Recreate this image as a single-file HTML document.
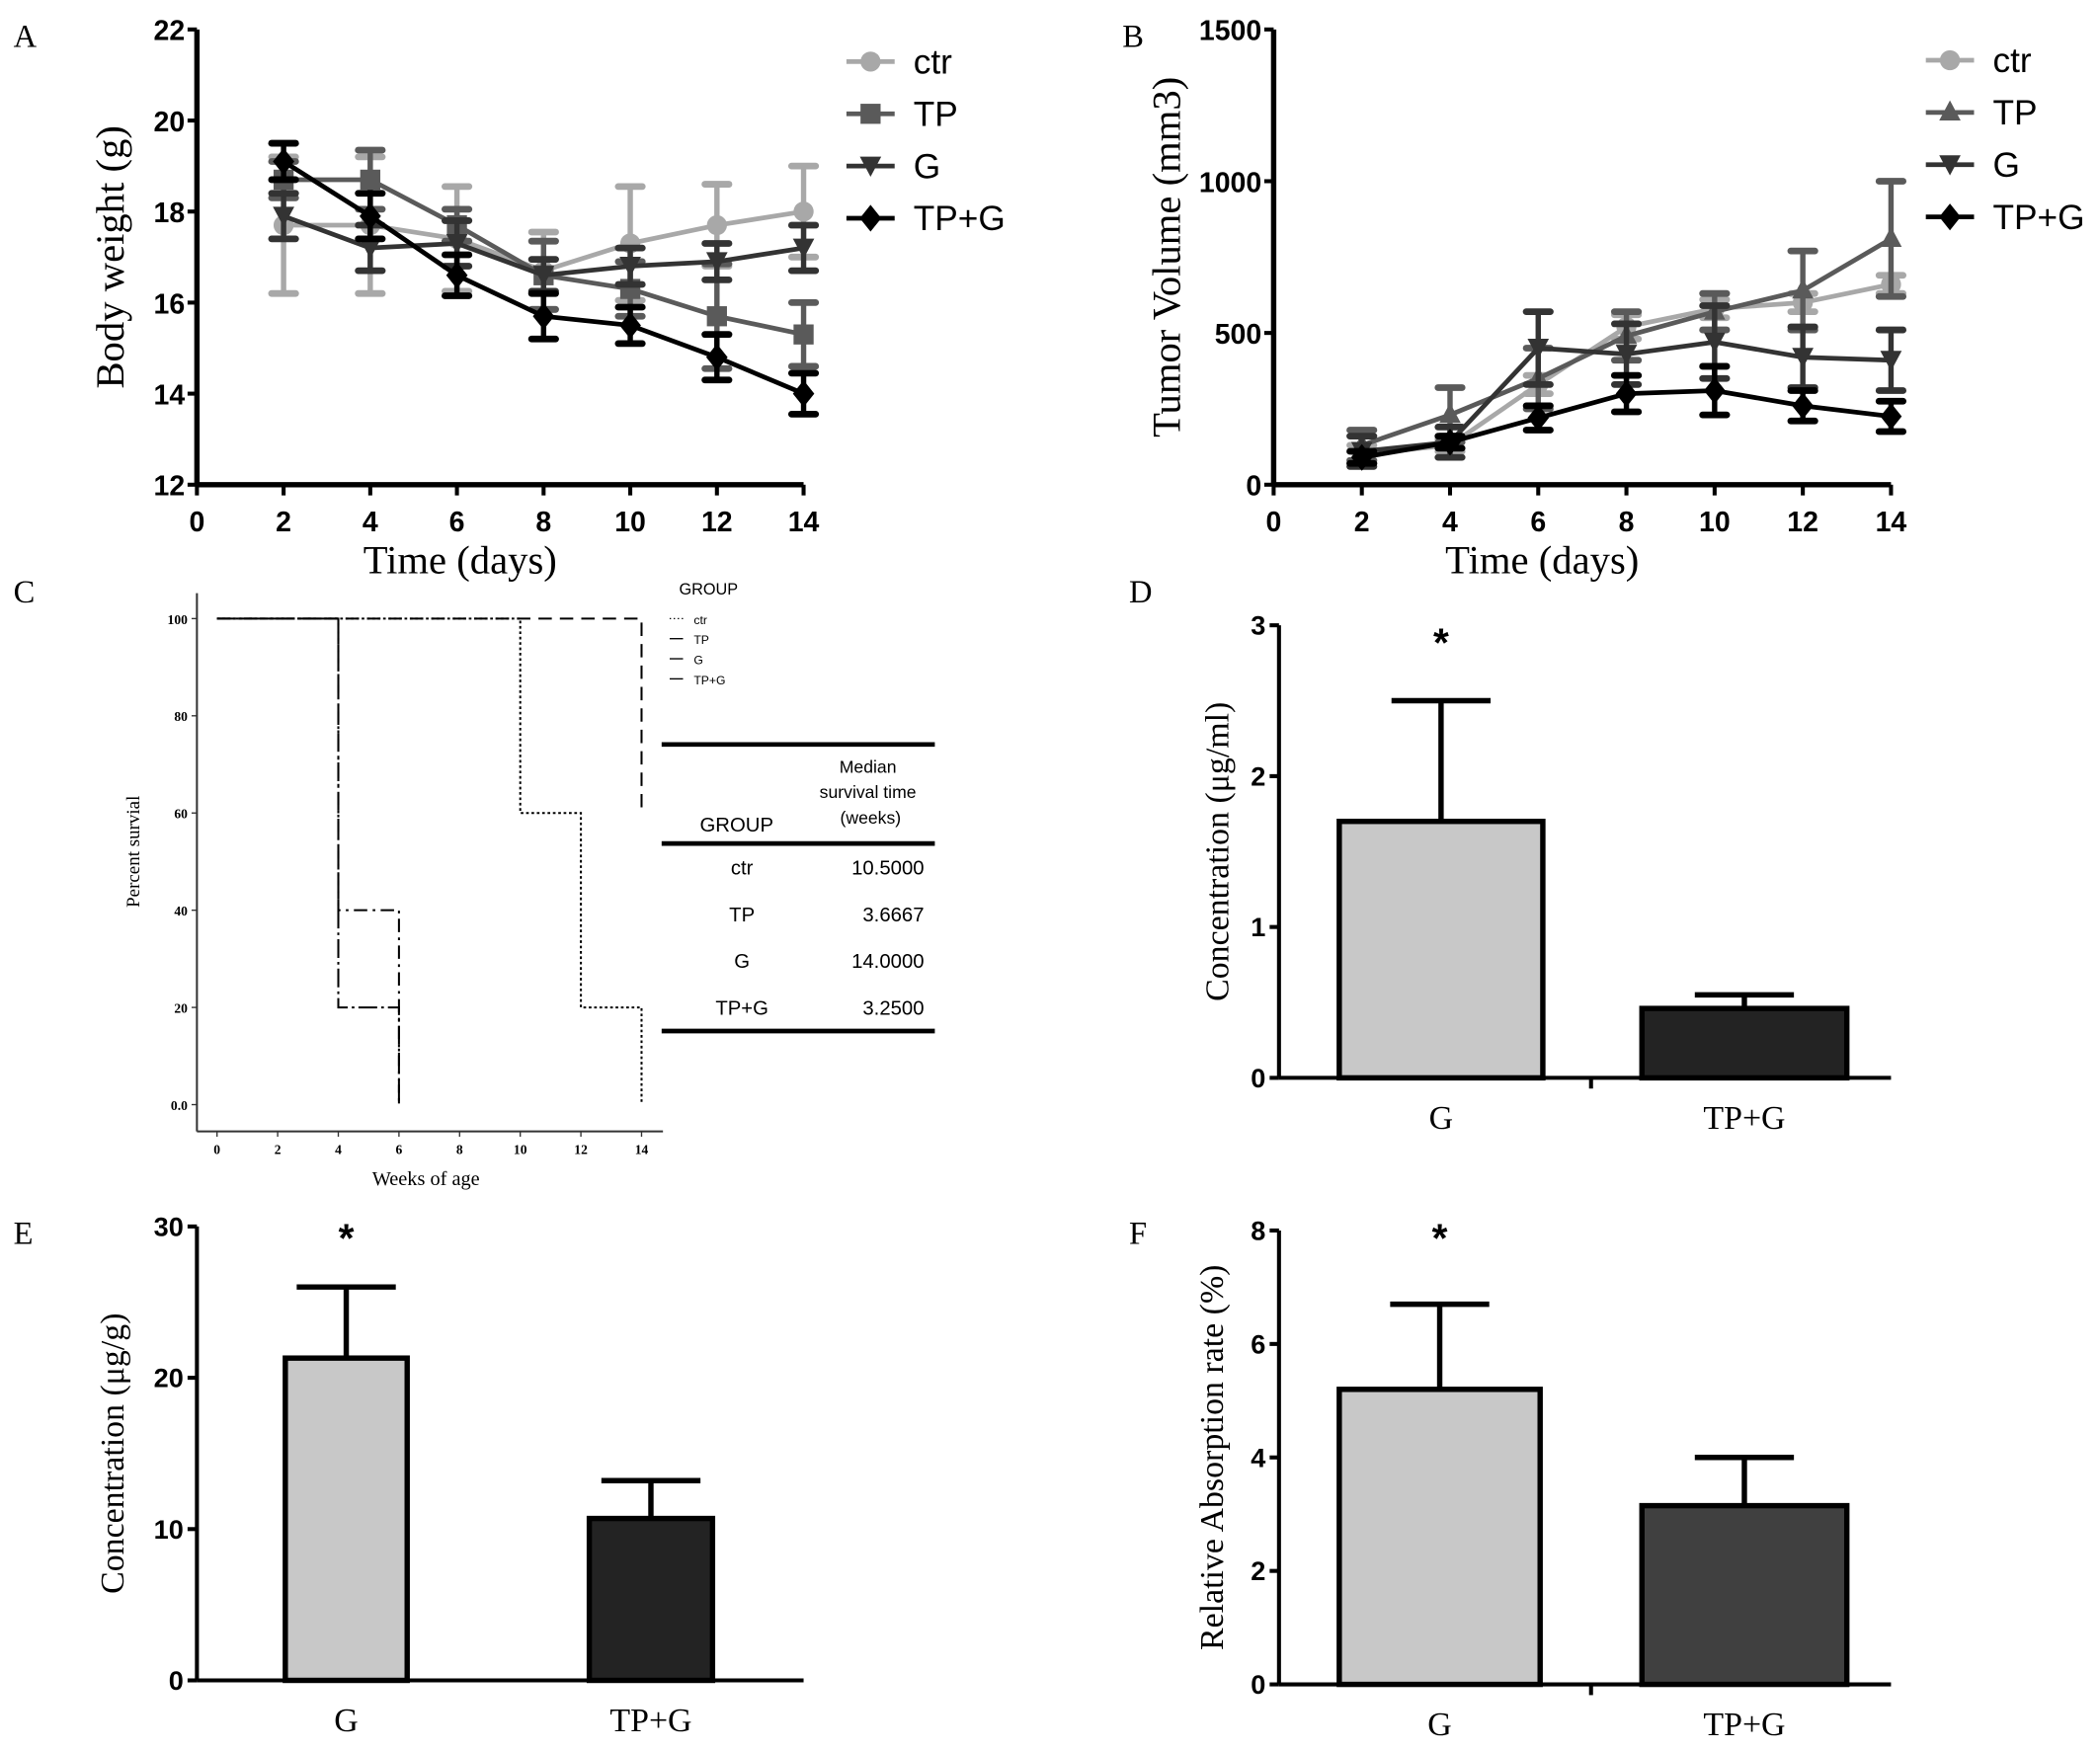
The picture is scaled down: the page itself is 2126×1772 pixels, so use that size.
<!DOCTYPE html>
<html><head><meta charset="utf-8"><style>
html,body{margin:0;padding:0;background:#fff;}
svg{display:block;font-family:"Liberation Serif",serif;}
.ar{font-family:"Liberation Sans",sans-serif;}
</style></head><body>
<svg id="s" width="2126" height="1772" viewBox="0 0 1568 1307" xmlns="http://www.w3.org/2000/svg">
<rect width="1568" height="1307" fill="#fff"/>
<g id="root"></g>
</svg>
<script>
const days=[2,4,6,8,10,12,14];
const aCtr=[17.7,17.7,17.4,16.7,17.3,17.7,18.0];
const aCtrErr=[1.5,1.5,1.15,0.85,1.25,0.9,1.0];
const aTP=[18.7,18.7,17.7,16.6,16.3,15.7,15.3];
const aTPErr=[0.4,0.65,0.35,0.75,0.6,1.15,0.7];
const aG=[17.9,17.2,17.3,16.6,16.8,16.9,17.2];
const aGErr=[0.5,0.5,0.5,0.35,0.4,0.4,0.5];
const aTPG=[19.1,17.9,16.6,15.7,15.5,14.8,14.0];
const aTPGErr=[0.4,0.5,0.45,0.5,0.4,0.5,0.45];
const bCtr=[100,130,330,520,580,600,660];
const bCtrErr=[30,20,30,40,30,30,30];
const bTP=[130,230,350,490,570,640,810];
const bTPErr=[50,90,100,80,60,130,190];
const bG=[110,140,450,430,470,420,410];
const bGErr=[50,50,120,100,120,100,100];
const bTPG=[90,140,220,300,310,260,225];
const bTPGErr=[20,20,40,60,80,50,50];
const survWeeks=[0,4,6,10,12,14];
const tableRows=[["ctr","10.5000"],["TP","3.6667"],["G","14.0000"],["TP+G","3.2500"]];
const barCats=["G","TP+G"];
const dVals=[1.7,0.46];const dErr=[0.8,0.09];
const eVals=[21.3,10.7];const eErr=[4.7,2.5];
const fVals=[5.2,3.15];const fErr=[1.5,0.85];

const NS="http://www.w3.org/2000/svg";
const root=document.getElementById('root');
function el(t,a,p){const e=document.createElementNS(NS,t);for(const k in a)e.setAttribute(k,a[k]);(p||root).appendChild(e);return e;}
function txt(x,y,s,a,p){const e=el('text',Object.assign({x:x,y:y},a),p);e.textContent=s;return e;}

[["A",10,35],["B",838,35],["C",10,450],["D",843,450],["E",10,929],["F",843,929]].forEach(l=>{
const t=txt(l[1],l[2],l[0],{'font-size':24});

});

function lineChart(id,x0,x1,y0,y1,ymin,ymax,yticks,ylab,yoff,series,legX,legY){
const g=el('g',{});


const sx=v=>x0+(v/14)*(x1-x0), sy=v=>y0-(v-ymin)/(ymax-ymin)*(y0-y1);
el('line',{x1:x0,y1:y1,x2:x0,y2:y0,stroke:'#000','stroke-width':4},g);
el('line',{x1:x0,y1:y0,x2:x1,y2:y0,stroke:'#000','stroke-width':4},g);
yticks.forEach(v=>{el('line',{x1:x0-7,y1:sy(v),x2:x0,y2:sy(v),stroke:'#000','stroke-width':3},g);
const t=txt(x0-9,sy(v)+8,String(v),{'font-size':21,'font-weight':'bold','text-anchor':'end',class:'ar'},g);

});
for(let d=0;d<=14;d+=2){el('line',{x1:sx(d),y1:y0,x2:sx(d),y2:y0+8,stroke:'#000','stroke-width':3},g);
const t=txt(sx(d),y0+35,String(d),{'font-size':21,'font-weight':'bold','text-anchor':'middle',class:'ar'},g);

}
const xl=txt((x0+x1)/2-30,y0+66,'Time (days)',{'font-size':30,'text-anchor':'middle'},g);


const yl=txt(0,0,ylab,{'font-size':30,'text-anchor':'middle',transform:`translate(${x0-yoff},${(y0+y1)/2}) rotate(-90)`},g);


series.forEach((s,i)=>{
const sg=el('g',{},g);


s.v.forEach((v,j)=>{const x=sx(days[j]);
el('line',{x1:x,y1:sy(v-s.e[j]),x2:x,y2:sy(v+s.e[j]),stroke:s.c,'stroke-width':4},sg);
[v-s.e[j],v+s.e[j]].forEach(w=>el('line',{x1:x-9,y1:sy(w),x2:x+9,y2:sy(w),stroke:s.c,'stroke-width':5,'stroke-linecap':'round'},sg));});
el('polyline',{points:s.v.map((v,j)=>sx(days[j])+','+sy(v)).join(' '),fill:'none',stroke:s.c,'stroke-width':3.5},sg);
s.v.forEach((v,j)=>marker(sx(days[j]),sy(v),s.m,s.c,sg));
const ly=legY+i*39;
el('line',{x1:legX,y1:ly,x2:legX+36,y2:ly,stroke:s.c,'stroke-width':3.5},sg);
marker(legX+18,ly,s.m,s.c,sg);
const lt=txt(legX+50,ly+9,s.name,{'font-size':26,class:'ar'},sg);

});
}
function marker(x,y,m,c,p){
if(m==='o')el('circle',{cx:x,cy:y,r:7.5,fill:c},p);
else if(m==='s')el('rect',{x:x-7.5,y:y-7.5,width:15,height:15,fill:c},p);
else if(m==='t')el('polygon',{points:`${x-8},${y+6} ${x+8},${y+6} ${x},${y-9}`,fill:c},p);
else if(m==='v')el('polygon',{points:`${x-8},${y-7} ${x+8},${y-7} ${x},${y+8}`,fill:c},p);
else el('polygon',{points:`${x},${y-10} ${x+8},${y} ${x},${y+10} ${x-8},${y}`,fill:c},p);}

lineChart('body-weight',147,600,362,22,12,22,[12,14,16,18,20,22],'Body weight (g)',55,[
{name:'ctr',v:aCtr,e:aCtrErr,c:'#a8a8a8',m:'o'},{name:'TP',v:aTP,e:aTPErr,c:'#5a5a5a',m:'s'},
{name:'G',v:aG,e:aGErr,c:'#333',m:'v'},{name:'TP+G',v:aTPG,e:aTPGErr,c:'#000',m:'d'}],632,46);
lineChart('tumor-volume',951,1412,362,22,0,1500,[0,500,1000,1500],'Tumor Volume (mm3)',70,[
{name:'ctr',v:bCtr,e:bCtrErr,c:'#a8a8a8',m:'o'},{name:'TP',v:bTP,e:bTPErr,c:'#5a5a5a',m:'t'},
{name:'G',v:bG,e:bGErr,c:'#333',m:'v'},{name:'TP+G',v:bTPG,e:bTPGErr,c:'#000',m:'d'}],1438,45);

(function(){
const g=el('g',{});


const sx=v=>162+v/14*(479-162), sy=v=>825-v/100*(825-462);
el('line',{x1:147,y1:443,x2:147,y2:845,stroke:'#333','stroke-width':1.5},g);
el('line',{x1:147,y1:845,x2:495,y2:845,stroke:'#333','stroke-width':1.5},g);
[0,20,40,60,80,100].forEach(v=>{el('line',{x1:143,y1:sy(v),x2:147,y2:sy(v),stroke:'#333'},g);
const t=txt(140,sy(v)+4,v===0?'0.0':String(v),{'font-size':10,'text-anchor':'end','font-weight':'bold'},g);

});
for(let d=0;d<=14;d+=2){el('line',{x1:sx(d),y1:845,x2:sx(d),y2:849,stroke:'#333'},g);
const t=txt(sx(d),862,String(d),{'font-size':10,'text-anchor':'middle','font-weight':'bold'},g);

}
const xt=txt(318,885,'Weeks of  age',{'font-size':15,'text-anchor':'middle'},g);


const yt=txt(0,0,'Percent survial',{'font-size':14,'text-anchor':'middle',transform:'translate(104,636) rotate(-90)'},g);


const W=survWeeks;
const curves=[
{n:'ctr',p:[[W[0],100],[W[3],100],[W[3],60],[W[4],60],[W[4],20],[W[5],20],[W[5],0]],d:'2,2',w:1.5},
{n:'g',p:[[W[0],100],[W[5],100],[W[5],60]],d:'10,6',w:1.5},
{n:'tp',p:[[W[0],100],[W[1],100],[W[1],40],[W[2],40],[W[2],0]],d:'10,4,2,4',w:1.5},
{n:'tp-g',p:[[W[0],100],[W[1],100],[W[1],20],[W[2],20],[W[2],0]],d:'14,3,2,3',w:1.5}];
curves.forEach(c=>{const pl=el('polyline',{points:c.p.map(q=>sx(q[0])+','+sy(q[1])).join(' '),fill:'none',stroke:'#000','stroke-width':c.w,'stroke-dasharray':c.d},g);

});
const lg=txt(507,444,'GROUP',{'font-size':12,class:'ar'},g);


['ctr','TP','G','TP+G'].forEach((n,i)=>{const y=462+i*15;
el('line',{x1:500,y1:y,x2:510,y2:y,stroke:'#000','stroke-dasharray':i===0?'1,2':'none'},g);
const t=txt(518,y+4,n,{'font-size':9,class:'ar'},g);

});
const tb=el('g',{},g);


[556,630,770].forEach(y=>el('line',{x1:494,y1:y,x2:698,y2:y,stroke:'#000','stroke-width':3.5},tb));
txt(550,621,'GROUP',{'font-size':15,'text-anchor':'middle',class:'ar'},tb);
txt(648,577,'Median',{'font-size':13,'text-anchor':'middle',class:'ar'},tb);
txt(648,596,'survival time',{'font-size':13,'text-anchor':'middle',class:'ar'},tb);
txt(650,615,'(weeks)',{'font-size':13,'text-anchor':'middle',class:'ar'},tb);
tableRows.forEach((r,i)=>{const y=653+i*35;
txt(554,y,r[0],{'font-size':15,'text-anchor':'middle',class:'ar'},tb);
txt(690,y,r[1],{'font-size':15,'text-anchor':'end',class:'ar'},tb);});
})();

function barChart(id,x0,x1,y0,y1,ymax,ticks,ylab,yoff,vals,errs,colors,bars,tickX,starY){
const g=el('g',{});


const sy=v=>y0-v/ymax*(y0-y1);
el('line',{x1:x0,y1:y1,x2:x0,y2:y0,stroke:'#000','stroke-width':3},g);
el('line',{x1:x0,y1:y0,x2:x1,y2:y0,stroke:'#000','stroke-width':3},g);
if(tickX)el('line',{x1:tickX,y1:y0,x2:tickX,y2:y0+8,stroke:'#000','stroke-width':3},g);
ticks.forEach(v=>{el('line',{x1:x0-7,y1:sy(v),x2:x0,y2:sy(v),stroke:'#000','stroke-width':3},g);
const t=txt(x0-10,sy(v)+7,String(v),{'font-size':20,'font-weight':'bold','text-anchor':'end',class:'ar'},g);

});
const yt=txt(0,0,ylab,{'font-size':25,'text-anchor':'middle',transform:`translate(${x0-yoff},${(y0+y1)/2}) rotate(-90)`},g);


vals.forEach((v,i)=>{const b=bars[i],cx=(b[0]+b[1])/2;
el('line',{x1:cx,y1:sy(v),x2:cx,y2:sy(v+errs[i]),stroke:'#000','stroke-width':4},g);
el('line',{x1:cx-37,y1:sy(v+errs[i]),x2:cx+37,y2:sy(v+errs[i]),stroke:'#000','stroke-width':4},g);
const r=el('rect',{x:b[0],y:sy(v),width:b[1]-b[0],height:y0-sy(v),fill:colors[i],stroke:'#000','stroke-width':4},g);


const t=txt(cx,y0+38,barCats[i],{'font-size':25,'text-anchor':'middle'},g);

});
const st=txt((bars[0][0]+bars[0][1])/2,starY,'*',{'font-size':30,'text-anchor':'middle','font-weight':'bold',class:'ar'},g);


}
barChart('serum-concentration',955,1412,805,467,3,[0,1,2,3],'Concentration (μg/ml)',38,dVals,dErr,['#c8c8c8','#232323'],[[1000,1152],[1226,1379]],1188,490);
barChart('tissue-concentration',147,600,1255,916,30,[0,10,20,30],'Concentration (μg/g)',55,eVals,eErr,['#c8c8c8','#232323'],[[213,304],[440,532]],null,935);
barChart('absorption-rate',955,1412,1258,919,8,[0,2,4,6,8],'Relative Absorption rate (%)',42,fVals,fErr,['#c8c8c8','#404040'],[[1000,1150],[1226,1379]],1188,935);
</script>
</body></html>
